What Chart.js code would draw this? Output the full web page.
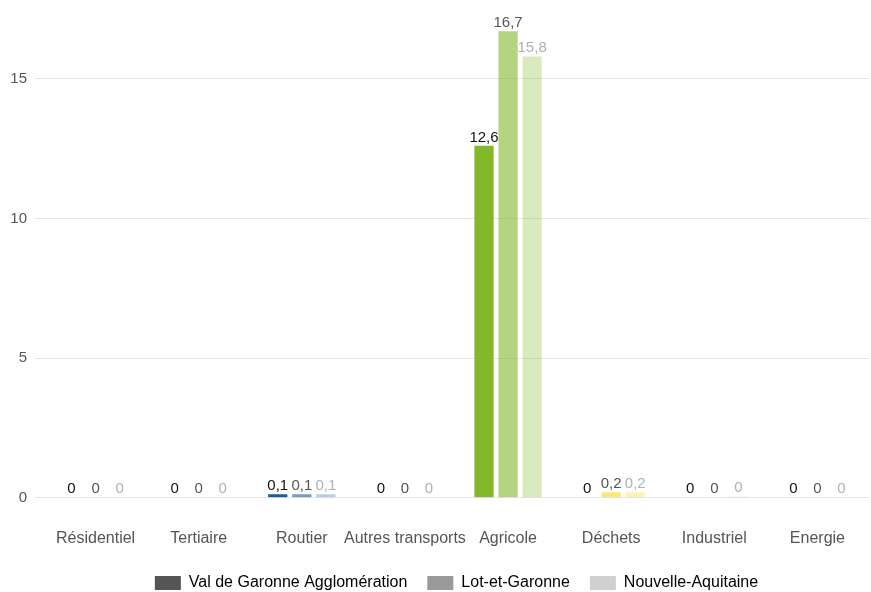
<!DOCTYPE html>
<html>
<head>
<meta charset="utf-8">
<script src="https://cdn.jsdelivr.net/npm/chart.js@4"></script>
<style>
  html, body { margin: 0; padding: 0; background: #fff; overflow: hidden; }
  #wrap { width: 871px; height: 592px; }
</style>
</head>
<body>
<div id="wrap"><canvas id="chart"></canvas></div>
<script>
// categories and series
const categories = ['Résidentiel', 'Tertiaire', 'Routier', 'Autres transports', 'Agricole', 'Déchets', 'Industriel', 'Energie'];
const seriesNames = ['Val de Garonne Agglomération', 'Lot-et-Garonne', 'Nouvelle-Aquitaine'];
const valGaronne = [0, 0, 0.13, 0, 12.6, 0, 0, 0];
const lotEtGaronne = [0, 0, 0.13, 0, 16.7, 0.2, 0, 0];
const nouvelleAquitaine = [0, 0, 0.13, 0, 15.8, 0.2, 0.04, 0];
const yTicks = [0, 5, 10, 15];

// couleur de base par secteur
const sectorColors = ['231,76,60', '155,89,182', '26,90,158', '120,120,120', '132,184,43', '250,216,20', '240,140,40', '60,60,60'];
const seriesAlpha = [1, 0.6, 0.3];
const legendColors = ['#555555', '#999999', '#d0d0d0'];
const labelColors = ['#111111', '#555555', '#b0b0b0'];

const allValues = [valGaronne, lotEtGaronne, nouvelleAquitaine];
const fontFamily = '"Liberation Sans", Arial, sans-serif';

const datasets = allValues.map((vals, i) => ({
    label: seriesNames[i],
    data: vals,
    backgroundColor: sectorColors.map(c => 'rgba(' + c + ',' + seriesAlpha[i] + ')'),
    borderWidth: 0,
    categoryPercentage: 0.7,
    barPercentage: 0.8
}));

function fmt(v) {
    const r = Math.round(v * 10) / 10;
    return String(r).replace('.', ',');
}

// étiquettes au-dessus des barres
const valueLabels = {
    id: 'valueLabels',
    afterDatasetsDraw(chart) {
        const ctx = chart.ctx;
        ctx.save();
        ctx.font = '15px ' + fontFamily;
        ctx.textAlign = 'center';
        ctx.textBaseline = 'bottom';
        chart.data.datasets.forEach((ds, i) => {
            const meta = chart.getDatasetMeta(i);
            meta.data.forEach((bar, j) => {
                ctx.fillStyle = labelColors[i];
                ctx.fillText(fmt(ds.data[j]), bar.x, bar.y - 1);
            });
        });
        ctx.restore();
    }
};

new Chart(document.getElementById('chart').getContext('2d'), {
    type: 'bar',
    data: { labels: categories, datasets: datasets },
    plugins: [valueLabels],
    options: {
        responsive: true,
        maintainAspectRatio: false,
        animation: false,
        layout: { padding: { left: 10, right: 2, top: 9, bottom: -9 } },
        plugins: {
            tooltip: { enabled: false },
            legend: {
                position: 'bottom',
                fullSize: false,
                labels: {
                    boxWidth: 26,
                    boxHeight: 14,
                    padding: 20,
                    color: '#111',
                    font: { family: fontFamily, size: 16 },
                    generateLabels: chart => seriesNames.map((n, i) => ({
                        text: n,
                        fillStyle: legendColors[i],
                        strokeStyle: legendColors[i],
                        lineWidth: 0,
                        datasetIndex: i
                    }))
                }
            }
        },
        scales: {
            x: {
                grid: { display: true, drawOnChartArea: false, color: 'rgba(0,0,0,0)', tickLength: 28 },
                border: { display: false },
                afterFit: axis => { axis.height += 4; axis.paddingLeft = 0; axis.paddingRight = 0; },
                ticks: {
                    color: '#555',
                    padding: 3,
                    maxRotation: 0,
                    autoSkip: false,
                    font: { family: fontFamily, size: 16 }
                }
            },
            y: {
                min: 0,
                max: 17.5,
                border: { display: false },
                grid: { color: '#e6e6e6', tickLength: 9 },
                afterBuildTicks: axis => { axis.ticks = yTicks.map(v => ({ value: v })); },
                afterFit: axis => { axis.width = 34; axis.paddingTop = 0; axis.paddingBottom = 0; },
                ticks: {
                    color: '#555',
                    padding: 8,
                    font: { family: fontFamily, size: 15 }
                }
            }
        }
    }
});
</script>
</body>
</html>
